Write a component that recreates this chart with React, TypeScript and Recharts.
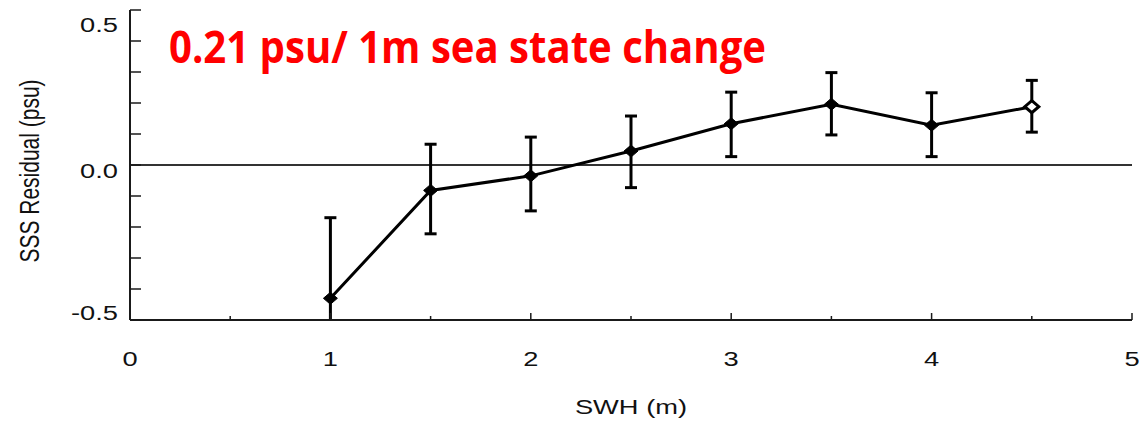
import {
  ComposedChart,
  ErrorBar,
  Line,
  ReferenceLine,
  XAxis,
  YAxis,
} from "recharts";

const swh = [1, 1.5, 2, 2.5, 3, 3.5, 4, 4.5];
const residual = [-0.43, -0.082, -0.035, 0.045, 0.133, 0.196, 0.128, 0.188];
const errDown = [0.26, 0.14, 0.113, 0.118, 0.106, 0.099, 0.101, 0.082];
const errUp = [0.26, 0.149, 0.125, 0.113, 0.102, 0.102, 0.105, 0.085];

const xTicks = [0, 0.5, 1, 1.5, 2, 2.5, 3, 3.5, 4, 4.5, 5];
const yTicks = [-0.5, -0.4, -0.3, -0.2, -0.1, 0, 0.1, 0.2, 0.3, 0.4, 0.5];
const yLabels = ["-0.5", "0.0", "0.5"];
const title = "0.21 psu/ 1m sea state change";

const data = swh.map((x, i) => ({
  x,
  y: residual[i],
  err: [errDown[i], errUp[i]],
}));

const ink = "#1a1a1a";
const font = "'Liberation Sans', Arial, sans-serif";
const stretch = 1.3; // the source picture is widened horizontally

const Diamond = (p: any) => {
  const { cx, cy, index } = p;
  if (cx == null || cy == null) return null;
  const rx = 7;
  const ry = 6;
  const hollow = index === data.length - 1;
  return (
    <polygon
      points={`${cx},${cy - ry} ${cx + rx},${cy} ${cx},${cy + ry} ${cx - rx},${cy}`}
      fill={hollow ? "#fff" : "#000"}
      stroke="#000"
      strokeWidth={hollow ? 3 : 1}
    />
  );
};

const Label = ({ x, y, anchor, children }: any) => (
  <text
    transform={`translate(${x},${y}) scale(${stretch},1)`}
    textAnchor={anchor}
    fontSize={21}
    fontFamily={font}
    fill="#111"
  >
    {children}
  </text>
);

const BottomTick = (p: any) => {
  const v = p.payload.value;
  const major = Number.isInteger(v);
  return (
    <g>
      <line x1={p.x} x2={p.x} y1={p.y} y2={p.y - (major ? 7 : 4)} stroke={ink} strokeWidth={1.5} />
      {major && (
        <Label x={p.x} y={p.y + 46} anchor="middle">
          {v}
        </Label>
      )}
    </g>
  );
};

const TopTick = (p: any) => (
  <line x1={p.x} x2={p.x} y1={p.y} y2={p.y + 6} stroke={ink} strokeWidth={1.5} />
);

const LeftTick = (p: any) => {
  const v = p.payload.value;
  const label = yLabels.find((l) => Number(l) === v);
  const dy = v > 0.4 ? 22 : v < -0.4 ? 0 : 13;
  return (
    <g>
      <line x1={p.x} x2={p.x + 11} y1={p.y} y2={p.y} stroke={ink} strokeWidth={1.5} />
      {label && (
        <Label x={p.x - 12} y={p.y + dy} anchor="end">
          {label}
        </Label>
      )}
    </g>
  );
};

const RightTick = (p: any) => (
  <line x1={p.x} x2={p.x - 10} y1={p.y} y2={p.y} stroke={ink} strokeWidth={1.5} />
);

export default function App() {
  return (
    <div style={{ position: "absolute", left: 0, top: 0, width: 1140, height: 422, background: "#fff" }}>
      <style>{".recharts-errorBars{clip-path:url(#plot-clip)}"}</style>
      <svg width={0} height={0} style={{ position: "absolute" }}>
        <defs>
          <clipPath id="plot-clip" clipPathUnits="userSpaceOnUse">
            <rect x={0} y={0} width={1140} height={320} />
          </clipPath>
        </defs>
      </svg>
      <ComposedChart
        width={1140}
        height={422}
        data={data}
        margin={{ top: 10, right: 8, bottom: 0, left: 0 }}
      >
        <XAxis
          xAxisId="b"
          dataKey="x"
          type="number"
          domain={[0, 5]}
          ticks={xTicks}
          interval={0}
          height={102}
          tickSize={0}
          tickMargin={0}
          tick={BottomTick}
          axisLine={{ stroke: ink, strokeWidth: 2 }}
          label={{
            content: (lp: any) => (
              <Label x={lp.viewBox.x + lp.viewBox.width / 2} y={lp.viewBox.y + 94} anchor="middle">
                SWH (m)
              </Label>
            ),
          }}
        />
        <XAxis
          xAxisId="t"
          dataKey="x"
          type="number"
          orientation="top"
          domain={[0, 5]}
          ticks={xTicks}
          interval={0}
          height={0}
          tickSize={0}
          tickMargin={0}
          tick={TopTick}
          axisLine={{ stroke: ink, strokeWidth: 2 }}
        />
        <YAxis
          yAxisId="l"
          type="number"
          domain={[-0.5, 0.5]}
          allowDataOverflow
          ticks={yTicks}
          interval={0}
          width={130}
          tickSize={0}
          tickMargin={0}
          tick={LeftTick}
          axisLine={{ stroke: ink, strokeWidth: 2 }}
          label={{
            content: (lp: any) => {
              const cy = lp.viewBox.y + lp.viewBox.height / 2 + 6;
              return (
                <text
                  transform={`translate(29,${cy}) scale(${stretch},1) rotate(-90)`}
                  textAnchor="middle"
                  dominantBaseline="central"
                  fontSize={21}
                  fontFamily={font}
                  fill="#111"
                >
                  SSS Residual (psu)
                </text>
              );
            },
          }}
        />
        <YAxis
          yAxisId="r"
          orientation="right"
          type="number"
          domain={[-0.5, 0.5]}
          allowDataOverflow
          ticks={yTicks}
          interval={0}
          width={0}
          tickSize={0}
          tickMargin={0}
          tick={RightTick}
          axisLine={{ stroke: ink, strokeWidth: 2 }}
        />
        <ReferenceLine xAxisId="b" yAxisId="l" y={0} stroke="#333" strokeWidth={2} />
        <Line
          xAxisId="b"
          yAxisId="l"
          dataKey="y"
          type="linear"
          stroke="#000"
          strokeWidth={3}
          dot={Diamond}
          activeDot={false}
          isAnimationActive={false}
        >
          <ErrorBar dataKey="err" direction="y" width={6} stroke="#000" strokeWidth={3} />
        </Line>
      </ComposedChart>
      <svg width={1140} height={80} style={{ position: "absolute", left: 0, top: 0, pointerEvents: "none" }}>
        <text
          x={169}
          y={63}
          fontSize={44}
          fontWeight="bold"
          fontFamily="'Open Sans', sans-serif"
          fill="#ff0000"
          textLength={597}
          lengthAdjust="spacingAndGlyphs"
        >
          {title}
        </text>
      </svg>
    </div>
  );
}
